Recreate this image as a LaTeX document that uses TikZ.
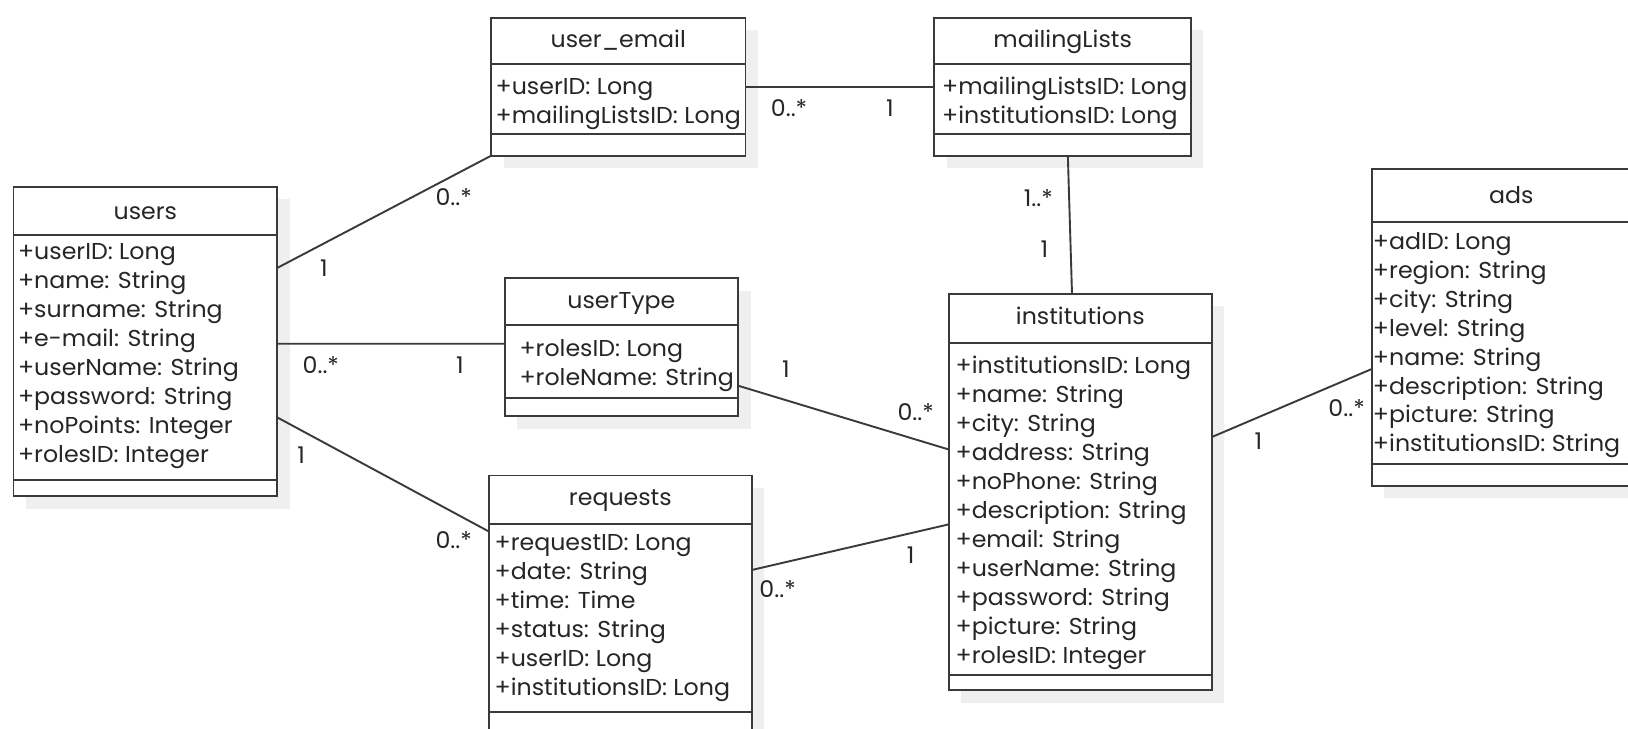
\documentclass[tikz,border=0pt]{standalone}
\usepackage{fontspec}
\setmainfont{Poppins}[FakeStretch=1.03]
\usetikzlibrary{fit,calc}
\definecolor{ink}{HTML}{262626}
\definecolor{edge}{HTML}{3A3A3A}
\definecolor{shade}{HTML}{EFEFEF}
\tikzset{
  px/.style={x=0.51915pt,y=-0.51915pt},
  classbox/.style={draw=edge, line width=0.95pt, fill=white, inner sep=0pt, outer sep=0pt},
  shadowbox/.style={fill=shade, draw=none},
  sepline/.style={draw=edge, line width=0.95pt},
  titletext/.style={font=\fontsize{11.5}{14.5}\selectfont, text=ink, inner sep=0pt, anchor=base},
  attrtext/.style={font=\fontsize{11.5}{14.5}\selectfont, text=ink, inner sep=0pt, anchor=base west},
  assoc/.style={draw=edge, line width=0.95pt},
  mult/.style={font=\fontsize{11.5}{12}\selectfont, text=ink, inner sep=0pt},
}
% class box: name, x1, y1, x2, y2, header rule, lower rule, title, title centre
\newcommand\umlclass[9]{%
  \fill[shadowbox] (#2+12,#3+12) rectangle (#4+12,#5+12);
  \node[classbox, fit={(#2,#3) (#4,#5)}] (#1) {};
  \draw[sepline] (#2,#6) -- (#4,#6);
  \draw[sepline] (#2,#7) -- (#4,#7);
  \node[titletext] (#1-title) at ({(#2+#4)/2},#9+6) {#8};
}
% attribute rows: name, x, first baseline, comma separated rows
\newcommand\umlattrs[4]{%
  \foreach \row [count=\k from 0] in {#4} {
    \node[attrtext] (#1-a\k) at (#2,#3+\k*27.9) {\row};
  }
}
\begin{document}
\begin{tikzpicture}[px]
\clip (0,0) rectangle (1568,702);
\fill[white] (0,0) rectangle (1568,702);

% classes
\umlclass{users}{13}{180}{267}{478}{226}{462}{users}{205}
\umlattrs{users}{17}{250}{+userID: Long,+name: String,+surname: String,+e-mail: String,+userName: String,+password: String,+noPoints: Integer,+rolesID: Integer}

\umlclass{useremail}{473}{17}{718}{150}{62}{129}{user\_email}{40}
\umlattrs{useremail}{477}{91}{+userID: Long,+mailingListsID: Long}

\umlclass{mailing}{900}{17}{1147}{150}{62}{129}{mailingLists}{40}
\umlattrs{mailing}{907}{91}{+mailingListsID: Long,+institutionsID: Long}

\umlclass{usertype}{486}{268}{711}{401}{313}{383}{userType}{291}
\umlattrs{usertype}{500}{343}{+rolesID: Long,+roleName: String}

\umlclass{requests}{471}{458}{724}{712}{505}{686}{requests}{481}
\umlattrs{requests}{476}{530}{+requestID: Long,+date: String,+time: Time,+status: String,+userID: Long,+institutionsID: Long}

\umlclass{inst}{914}{283}{1167}{665}{330}{650}{institutions}{307}
\umlattrs{inst}{920}{360}{+institutionsID: Long,+name: String,+city: String,+address: String,+noPhone: String,+description: String,+email: String,+userName: String,+password: String,+picture: String,+rolesID: Integer}

\umlclass{ads}{1321}{163}{1590}{468}{214}{447}{ads}{190}
\umlattrs{ads}{1322}{240}{+adID: Long,+region: String,+city: String,+level: String,+name: String,+description: String,+picture: String,+institutionsID: String}

% associations
\draw[assoc] ($(users.north east)!0.262!(users.south east)$) -- (useremail.south west);
\draw[assoc] ($(users.north east)!0.507!(users.south east)$) -- ($(usertype.north west)!0.474!(usertype.south west)$);
\draw[assoc] ($(users.north east)!0.745!(users.south east)$) -- ($(requests.north west)+(0,54)$);
\draw[assoc] (useremail.east) -- (mailing.west);
\draw[assoc] ($(mailing.south)+(5,0)$) -- ($(inst.north)+(-8,0)$);
\draw[assoc] ($(usertype.east)+(0,37)$) -- ($(inst.west)+(0,-41)$);
\draw[assoc] ($(requests.north east)+(0,91)$) -- ($(inst.west)+(0,31)$);
\draw[assoc] ($(inst.east)+(0,-53)$) -- ($(ads.west)+(0,40)$);

% multiplicities
\node[mult] (m1a) at (312,258) {1};
\node[mult] (m1b) at (437,190) {0..*};
\node[mult] (m2a) at (309,352) {0..*};
\node[mult] (m2b) at (443,352) {1};
\node[mult] (m3a) at (290,438) {1};
\node[mult] (m3b) at (437,520) {0..*};
\node[mult] (m4a) at (760,104) {0..*};
\node[mult] (m4b) at (857,104) {1};
\node[mult] (m5a) at (1000,191) {1..*};
\node[mult] (m5b) at (1006,240) {1};
\node[mult] (m6a) at (757,356) {1};
\node[mult] (m6b) at (882,397) {0..*};
\node[mult] (m7a) at (877,535) {1};
\node[mult] (m7b) at (749,567) {0..*};
\node[mult] (m8a) at (1212,425) {1};
\node[mult] (m8b) at (1297,393) {0..*};
\end{tikzpicture}
\end{document}
